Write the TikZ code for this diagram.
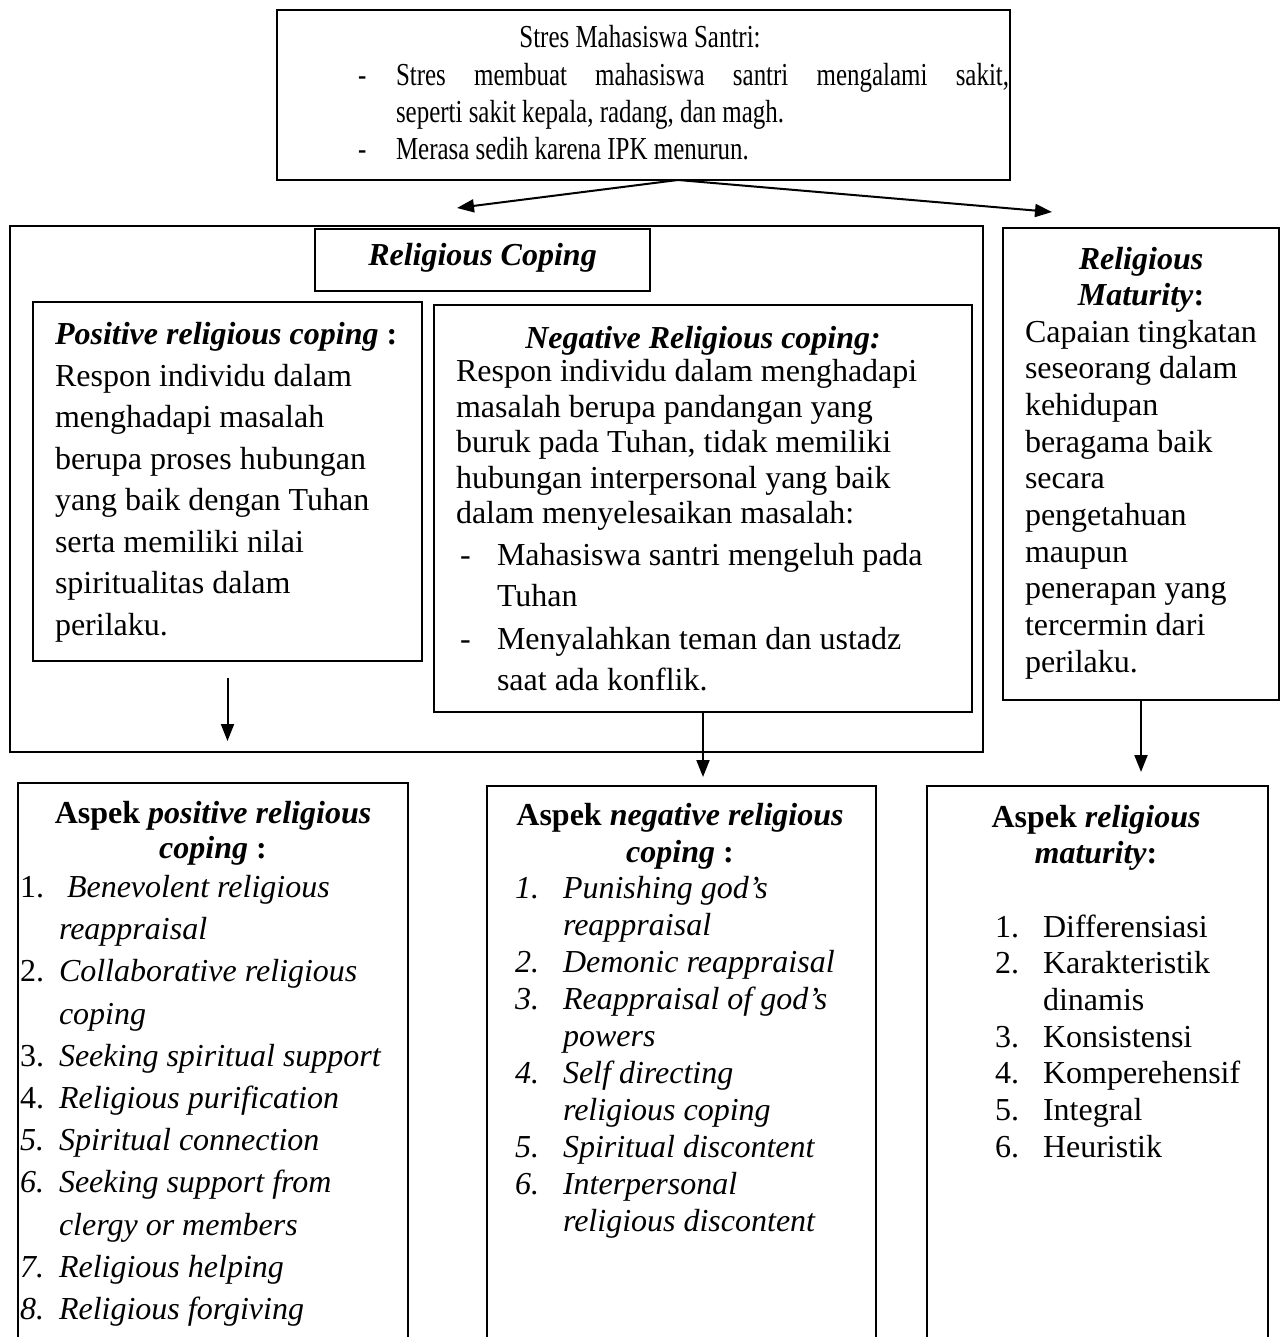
\documentclass[tikz,border=0pt]{standalone}
\usepackage{graphicx}
\usepackage{fontspec}
\setmainfont{Liberation Serif}
\usetikzlibrary{arrows.meta,fit,calc}
\newcommand\hscl[1]{\scalebox{0.78}[1]{#1}}
\begin{document}
\begin{tikzpicture}[x=0.5pt,y=-0.5pt,
  box/.style={draw=black, line width=1pt, inner sep=0pt, outer sep=0pt},
  tl/.style={inner sep=0pt, outer sep=0pt, anchor=base west, font=\fontsize{16}{19}\selectfont},
  tc/.style={tl, anchor=base},
  tt/.style={tl},
  ttc/.style={tt, anchor=base},
  arr/.style={line width=1pt, -{Triangle[length=8.5pt,width=6.5pt]}},
]
\useasboundingbox (0,0) rectangle (1284,1337);
\clip (0,0) rectangle (1284,1337);
\fill[white] (0,0) rectangle (1284,1337);

% boxes
\node[box, line width=1.3pt, fit={(277,10) (1010,180)}] (top) {};
\node[box, line width=1.2pt, fit={(10,226) (983,752)}] (rc) {};
\node[box, fit={(315,229) (650,291)}] (rch) {};
\node[box, fit={(33,302) (422,661)}] (pos) {};
\node[box, fit={(434,305) (972,712)}] (neg) {};
\node[box, fit={(1003,228) (1279,700)}] (mat) {};
\node[box, fit={(18,783) (408,1360)}] (bl) {};
\node[box, fit={(487,786) (876,1360)}] (bm) {};
\node[box, fit={(927,786) (1268,1360)}] (br) {};

% connectors
\coordinate (tsrc) at ($(top.south west)!0.547!(top.south east)$);
\coordinate (lt) at (457,208);
\coordinate (rt) at (1052,212);
\draw[arr] (tsrc) -- (lt);
\draw[arr] (tsrc) -- (rt);
\coordinate (pa) at ($(pos.south)+(0,17)$);
\coordinate (pb) at (pos.south |- 0,741);
\draw[arr] (pa) -- (pb);
\draw[arr] (neg.south) -- ($(bm.north -| neg.south)+(0,-9)$);
\draw[arr] (mat.south) -- ($(br.north -| mat.south)+(0,-14)$);

% top box text
\node[ttc] (t0) at (640,48) {\hscl{Stres Mahasiswa Santri:}};
\node[tt] (t1d) at (358,86) {\hscl{-}};
\node[tt] (t1) at (396,86) {\hscl{\makebox[393pt][s]{Stres membuat mahasiswa santri mengalami sakit,}}};
\node[tt] (t2) at (396,123) {\hscl{seperti sakit kepala, radang, dan magh.}};
\node[tt] (t3d) at (358,160) {\hscl{-}};
\node[tt] (t3) at (396,160) {\hscl{Merasa sedih karena IPK menurun.}};

% religious coping heading
\node[tc] (rct) at (rch.center |- 0,265) {\textbf{\textit{Religious Coping}}};

% positive
\node[tl] (p0) at (55,344) {\textbf{\textit{Positive religious coping}} \textbf{:}};
\node[tl] (p1) at (55,386) {Respon individu dalam};
\node[tl] (p2) at (55,427.5) {menghadapi masalah};
\node[tl] (p3) at (55,469) {berupa proses hubungan};
\node[tl] (p4) at (55,510.5) {yang baik dengan Tuhan};
\node[tl] (p5) at (55,552) {serta memiliki nilai};
\node[tl] (p6) at (55,593.5) {spiritualitas dalam};
\node[tl] (p7) at (55,635) {perilaku.};

% negative
\node[tc] (n0) at (703,348) {\textbf{\textit{Negative Religious coping:}}};
\node[tl] (n1) at (456,381) {Respon individu dalam menghadapi};
\node[tl] (n2) at (456,417) {masalah berupa pandangan yang};
\node[tl] (n3) at (456,452) {buruk pada Tuhan, tidak memiliki};
\node[tl] (n4) at (456,488) {hubungan interpersonal yang baik};
\node[tl] (n5) at (456,523) {dalam menyelesaikan masalah:};
\node[tl] (n6d) at (460,565) {-};
\node[tl] (n6) at (497,565) {Mahasiswa santri mengeluh pada};
\node[tl] (n7) at (497,606) {Tuhan};
\node[tl] (n8d) at (460,649) {-};
\node[tl] (n8) at (497,649) {Menyalahkan teman dan ustadz};
\node[tl] (n9) at (497,690) {saat ada konflik.};

% maturity
\node[tc] (m0) at (1141,270) {\textbf{\textit{Religious}}};
\node[tc] (m1) at (1141,305) {\textbf{\textit{Maturity}:}};
\node[tl] (m2) at (1025,342) {Capaian tingkatan};
\node[tl] (m3) at (1025,378) {seseorang dalam};
\node[tl] (m4) at (1025,415) {kehidupan};
\node[tl] (m5) at (1025,452) {beragama baik};
\node[tl] (m6) at (1025,488) {secara};
\node[tl] (m7) at (1025,525) {pengetahuan};
\node[tl] (m8) at (1025,562) {maupun};
\node[tl] (m9) at (1025,598) {penerapan yang};
\node[tl] (m10) at (1025,635) {tercermin dari};
\node[tl] (m11) at (1025,672) {perilaku.};

% bottom left
\node[tc] (bl0) at (213,823) {\textbf{Aspek \textit{positive religious}}};
\node[tc] (bl1) at (213,858) {\textbf{\textit{coping} :}};
\node[tl] (bln1) at (20,897) {1.};
\node[tl] (blt1) at (67,897) {\textit{Benevolent religious}};
\node[tl] (blt1b) at (59,939) {\textit{reappraisal}};
\node[tl] (bln2) at (20,981) {2.};
\node[tl] (blt2) at (59,981) {\textit{Collaborative religious}};
\node[tl] (blt2b) at (59,1024) {\textit{coping}};
\node[tl] (bln3) at (20,1066) {3.};
\node[tl] (blt3) at (59,1066) {\textit{Seeking spiritual support}};
\node[tl] (bln4) at (20,1108) {4.};
\node[tl] (blt4) at (59,1108) {\textit{Religious purification}};
\node[tl] (bln5) at (20,1150) {\textit{5.}};
\node[tl] (blt5) at (59,1150) {\textit{Spiritual connection}};
\node[tl] (bln6) at (20,1192) {\textit{6.}};
\node[tl] (blt6) at (59,1192) {\textit{Seeking support from}};
\node[tl] (blt6b) at (59,1235) {\textit{clergy or members}};
\node[tl] (bln7) at (20,1277) {\textit{7.}};
\node[tl] (blt7) at (59,1277) {\textit{Religious helping}};
\node[tl] (bln8) at (20,1319) {\textit{8.}};
\node[tl] (blt8) at (59,1319) {\textit{Religious forgiving}};

% bottom middle
\node[tc] (bm0) at (680,825) {\textbf{Aspek \textit{negative religious}}};
\node[tc] (bm1) at (680,862) {\textbf{\textit{coping} :}};
\node[tl] (bmn1) at (515,898) {\textit{1.}};
\node[tl] (bmt1) at (563,898) {\textit{Punishing god’s}};
\node[tl] (bmt1b) at (563,935) {\textit{reappraisal}};
\node[tl] (bmn2) at (515,972) {\textit{2.}};
\node[tl] (bmt2) at (563,972) {\textit{Demonic reappraisal}};
\node[tl] (bmn3) at (515,1009) {\textit{3.}};
\node[tl] (bmt3) at (563,1009) {\textit{Reappraisal of god’s}};
\node[tl] (bmt3b) at (563,1046) {\textit{powers}};
\node[tl] (bmn4) at (515,1083) {\textit{4.}};
\node[tl] (bmt4) at (563,1083) {\textit{Self directing}};
\node[tl] (bmt4b) at (563,1120) {\textit{religious coping}};
\node[tl] (bmn5) at (515,1157) {\textit{5.}};
\node[tl] (bmt5) at (563,1157) {\textit{Spiritual discontent}};
\node[tl] (bmn6) at (515,1194) {\textit{6.}};
\node[tl] (bmt6) at (563,1194) {\textit{Interpersonal}};
\node[tl] (bmt6b) at (563,1231) {\textit{religious discontent}};

% bottom right
\node[tc] (br0) at (1096,827) {\textbf{Aspek \textit{religious}}};
\node[tc] (br1) at (1096,863) {\textbf{\textit{maturity}:}};
\node[tl] (brn1) at (995,937) {1.};
\node[tl] (brt1) at (1043,937) {Differensiasi};
\node[tl] (brn2) at (995,973.7) {2.};
\node[tl] (brt2) at (1043,973.7) {Karakteristik};
\node[tl] (brt2b) at (1043,1010.4) {dinamis};
\node[tl] (brn3) at (995,1047) {3.};
\node[tl] (brt3) at (1043,1047) {Konsistensi};
\node[tl] (brn4) at (995,1083.8) {4.};
\node[tl] (brt4) at (1043,1083.8) {Komperehensif};
\node[tl] (brn5) at (995,1120.5) {5.};
\node[tl] (brt5) at (1043,1120.5) {Integral};
\node[tl] (brn6) at (995,1157) {6.};
\node[tl] (brt6) at (1043,1157) {Heuristik};
\end{tikzpicture}
\end{document}
